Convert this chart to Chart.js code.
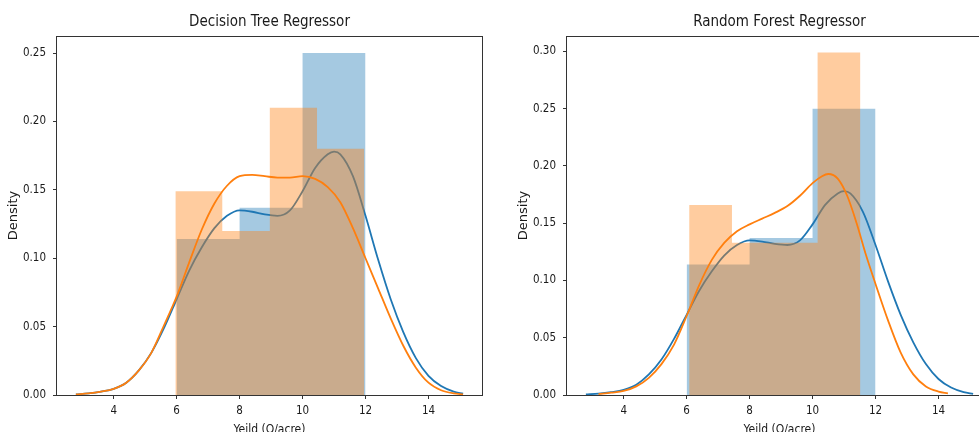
<!DOCTYPE html>
<html>
<head>
<meta charset="utf-8">
<script src="https://cdn.jsdelivr.net/npm/chart.js@4.4.1/dist/chart.umd.min.js"></script>
<style>
html, body { margin: 0; padding: 0; background: #fff; overflow: hidden; width: 979px; height: 432px; }
canvas { position: absolute; top: 0; }
#dt { left: 0; }
#rf { left: 510px; }
</style>
</head>
<body>
<canvas id="dt" width="490" height="445"></canvas>
<canvas id="rf" width="490" height="445"></canvas>
<script>
// tick labels
const xTicks = [4, 6, 8, 10, 12, 14];
const dtYTicks = [0, 0.05, 0.10, 0.15, 0.20, 0.25];
const rfYTicks = [0, 0.05, 0.10, 0.15, 0.20, 0.25, 0.30];

// histograms (bin edges + density per bin)
const actualEdges = [6, 8, 10, 12];
const actualDensity = [0.114, 0.137, 0.25];
const dtEdges = [5.96, 7.45, 8.96, 10.46, 11.96];
const dtDensity = [0.149, 0.12, 0.21, 0.18];
const rfEdges = [6.08, 7.44, 8.80, 10.16, 11.52];
const rfDensity = [0.166, 0.133, 0.133, 0.299];

// kde curves
const actualKdeX = [2.8, 3.2, 3.6, 4.0, 4.4, 4.8, 5.2, 5.6, 6.0, 6.4, 6.8, 7.2, 7.6, 8.0, 8.4, 8.8, 9.2, 9.6, 10.0, 10.4, 10.8, 11.0, 11.2, 11.6, 12.0, 12.4, 12.8, 13.2, 13.6, 14.0, 14.4, 14.8, 15.1];
const actualKdeY = [0.0005, 0.0012, 0.0025, 0.0045, 0.009, 0.018, 0.031, 0.049, 0.070, 0.091, 0.108, 0.122, 0.131, 0.135, 0.134, 0.132, 0.131, 0.135, 0.149, 0.166, 0.176, 0.178, 0.176, 0.160, 0.131, 0.099, 0.070, 0.046, 0.027, 0.014, 0.0065, 0.0025, 0.001];
const dtKdeX = [2.8, 3.2, 3.6, 4.0, 4.4, 4.8, 5.2, 5.6, 6.0, 6.4, 6.8, 7.2, 7.6, 8.0, 8.4, 8.8, 9.2, 9.6, 10.0, 10.4, 10.8, 11.2, 11.6, 12.0, 12.4, 12.8, 13.2, 13.6, 14.0, 14.4, 14.8, 15.1];
const dtKdeY = [0.0005, 0.0012, 0.0025, 0.0045, 0.009, 0.018, 0.031, 0.051, 0.072, 0.097, 0.121, 0.140, 0.153, 0.160, 0.161, 0.160, 0.159, 0.159, 0.160, 0.158, 0.152, 0.141, 0.122, 0.100, 0.078, 0.056, 0.036, 0.020, 0.009, 0.0035, 0.0012, 0.0005];
const rfKdeX = [3.2, 3.6, 4.0, 4.4, 4.8, 5.2, 5.6, 6.0, 6.4, 6.8, 7.2, 7.6, 8.0, 8.4, 8.8, 9.2, 9.6, 10.0, 10.3, 10.5, 10.8, 11.1, 11.4, 11.7, 12.0, 12.4, 12.8, 13.2, 13.6, 14.0, 14.3];
const rfKdeY = [0.0008, 0.002, 0.0035, 0.0075, 0.015, 0.027, 0.044, 0.069, 0.096, 0.118, 0.133, 0.143, 0.149, 0.154, 0.159, 0.165, 0.174, 0.185, 0.191, 0.193, 0.189, 0.174, 0.150, 0.122, 0.097, 0.065, 0.037, 0.018, 0.0075, 0.003, 0.0015];

const condensed = "'DejaVu Sans Condensed', 'DejaVu Sans', sans-serif";

function histSet(edges, dens, color, order) {
    const pts = [{x: edges[0], y: 0}];
    dens.forEach((d, i) => pts.push({x: edges[i], y: d}));
    pts.push({x: edges[edges.length - 1], y: 0});
    return {
        data: pts, stepped: true, fill: 'origin', backgroundColor: color,
        borderWidth: 0, borderColor: 'rgba(0,0,0,0)', pointRadius: 0, order: order
    };
}

function kdeSet(xs, ys, color, order) {
    return {
        data: xs.map((x, i) => ({x: x, y: ys[i]})),
        borderColor: color, borderWidth: 1.8, pointRadius: 0, fill: false,
        cubicInterpolationMode: 'monotone', order: order
    };
}

const frame = {
    id: 'frame',
    afterDraw(chart) {
        const a = chart.chartArea, ctx = chart.ctx;
        ctx.save();
        ctx.strokeStyle = '#333';
        ctx.lineWidth = 1;
        ctx.strokeRect(Math.round(a.left) - 0.5, Math.round(a.top) + 0.5,
            Math.round(a.right - a.left) + 1, Math.round(a.bottom - a.top));
        ctx.restore();
    }
};

function makeChart(id, title, yMax, yTicks, edges, dens, kx, ky) {
    new Chart(document.getElementById(id), {
        type: 'line',
        data: {
            datasets: [
                histSet(actualEdges, actualDensity, 'rgba(31,119,180,0.4)', 4),
                kdeSet(actualKdeX, actualKdeY, '#1f77b4', 3),
                histSet(edges, dens, 'rgba(255,127,14,0.4)', 2),
                kdeSet(kx, ky, '#ff7f0e', 1)
            ]
        },
        options: {
            responsive: false,
            animation: false,
            devicePixelRatio: 1,
            layout: { padding: { left: 0, right: 8, top: 0, bottom: 0 } },
            plugins: {
                legend: { display: false },
                tooltip: { enabled: false },
                title: {
                    display: true, text: title, fullSize: false, color: '#1a1a1a',
                    font: { family: condensed, size: 15, weight: 'normal', lineHeight: 1.2 },
                    padding: { top: 13.5, bottom: 4.5 }
                }
            },
            scales: {
                x: {
                    type: 'linear', min: 2.2, max: 15.7,
                    afterBuildTicks: s => { s.ticks = xTicks.map(v => ({value: v})); },
                    afterFit: s => { s.height = 50; },
                    ticks: { color: '#1a1a1a', padding: 5, autoSkip: false, maxRotation: 0,
                        font: { family: condensed, size: 11.5, lineHeight: 1.2 },
                        callback: v => String(v) },
                    grid: { drawOnChartArea: false, drawTicks: true, tickLength: 4, color: '#333' },
                    border: { display: false },
                    title: { display: true, text: 'Yeild (Q/acre)', color: '#1a1a1a',
                        font: { family: condensed, size: 12, lineHeight: 1.2 },
                        padding: { top: 0, bottom: 7.8 } }
                },
                y: {
                    min: 0, max: yMax,
                    afterBuildTicks: s => { s.ticks = yTicks.map(v => ({value: v})); },
                    afterFit: s => { s.width = 57; },
                    ticks: { color: '#1a1a1a', padding: 7,
                        font: { family: condensed, size: 11.5, lineHeight: 1.2 },
                        callback: v => v.toFixed(2) },
                    grid: { drawOnChartArea: false, drawTicks: true, tickLength: 4, color: '#333' },
                    border: { display: false },
                    title: { display: true, text: 'Density', color: '#1a1a1a',
                        font: { family: "'DejaVu Sans', sans-serif", size: 13, lineHeight: 1.2 },
                        padding: { top: 6, bottom: 0 } }
                }
            }
        },
        plugins: [frame]
    });
}

makeChart('dt', 'Decision Tree Regressor', 0.2625, dtYTicks, dtEdges, dtDensity, dtKdeX, dtKdeY);
makeChart('rf', 'Random Forest Regressor', 0.3135, rfYTicks, rfEdges, rfDensity, rfKdeX, rfKdeY);
</script>
</body>
</html>
